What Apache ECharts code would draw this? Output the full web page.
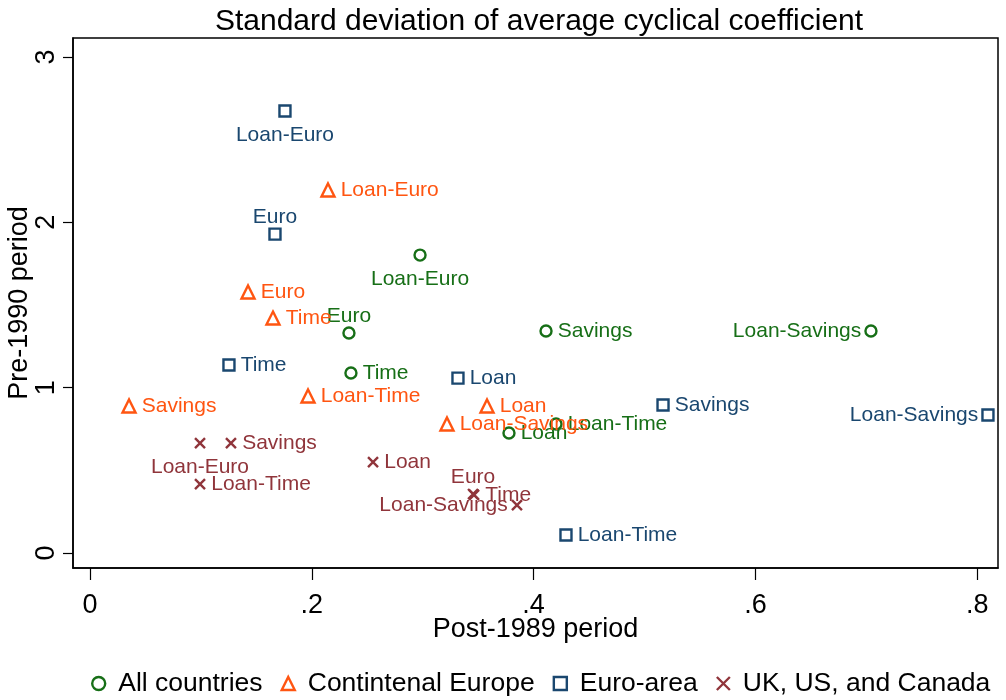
<!DOCTYPE html>
<html>
<head>
<meta charset="utf-8">
<script src="https://cdn.jsdelivr.net/npm/echarts@6/dist/echarts.min.js"></script>
<style>
  html, body { margin: 0; padding: 0; background: #fff; }
  #chart { width: 1006px; height: 700px; }
</style>
</head>
<body>
<div id="chart"></div>
<script>
// Specification names, shared by every country group
const specNames = ['Euro', 'Time', 'Savings', 'Loan', 'Loan-Euro', 'Loan-Time', 'Loan-Savings'];

// Country groups (legend order)
const groupNames = ['All countries', 'Contintenal Europe', 'Euro-area', 'UK, US, and Canada'];

// Post-1989 standard deviation (x) and pre-1990 standard deviation (y), per group, in specNames order
const allPost   = [0.2335, 0.2353, 0.4112, 0.3778, 0.2976, 0.4202, 0.7042];
const allPre    = [1.331, 1.089, 1.343, 0.726, 1.802, 0.780, 1.343];

const contPost  = [0.1425, 0.1650, 0.0352, 0.3580, 0.2146, 0.1966, 0.3219];
const contPre   = [1.579, 1.421, 0.889, 0.889, 2.196, 0.950, 0.780];

const euroPost  = [0.1668, 0.1253, 0.5167, 0.3318, 0.1758, 0.4292, 0.8097];
const euroPre   = [1.929, 1.137, 0.895, 1.058, 2.673, 0.109, 0.835];

const angloPost = [0.3454, 0.3463, 0.1271, 0.2552, 0.0992, 0.0992, 0.3850];
const angloPre  = [0.357, 0.351, 0.665, 0.550, 0.665, 0.417, 0.290];

// Axis tick values and their labels
const xTicks = [0, 0.2, 0.4, 0.6, 0.8];
const xTickLabels = ['0', '.2', '.4', '.6', '.8'];
const yTicks = [0, 1, 2, 3];
const yTickLabels = ['0', '1', '2', '3'];

// Where each marker label sits relative to its marker (specNames order)
const labelSides = {
  'All countries':      ['top', 'right', 'right', 'right', 'bottom', 'right', 'left'],
  'Contintenal Europe': ['right', 'right', 'right', 'right', 'right', 'right', 'right'],
  'Euro-area':          ['top', 'right', 'right', 'right', 'bottom', 'right', 'left'],
  'UK, US, and Canada': ['top', 'right', 'right', 'right', 'bottom', 'right', 'left']
};
const sideDistance = { top: 0, bottom: 7, left: 3, right: 5 };

const FONT = "'Liberation Sans', Arial, Helvetica, sans-serif";

const groupStyle = {
  'All countries':      { color: '#176f17', symbol: 'circle', size: 11 },
  'Contintenal Europe': { color: '#ff5511', symbol: 'triangle', size: 13 },
  'Euro-area':          { color: '#1a476f', symbol: 'rect', size: 11 },
  'UK, US, and Canada': { color: '#90353b', symbol: 'path://M0,0L10,10M10,0L0,10', size: 10 }
};

const groupData = {
  'All countries':      [allPost, allPre],
  'Contintenal Europe': [contPost, contPre],
  'Euro-area':          [euroPost, euroPre],
  'UK, US, and Canada': [angloPost, angloPre]
};

const series = groupNames.map(function (g) {
  const st = groupStyle[g];
  const xs = groupData[g][0], ys = groupData[g][1];
  return {
    name: g,
    type: 'scatter',
    symbol: st.symbol,
    symbolSize: st.size,
    itemStyle: { color: 'rgba(0,0,0,0)', borderColor: st.color, borderWidth: 2.4, opacity: 1 },
    emphasis: { disabled: true },
    data: specNames.map(function (n, i) {
      const side = labelSides[g][i];
      return {
        name: n,
        value: [xs[i], ys[i]],
        label: { position: side, distance: sideDistance[side] }
      };
    }),
    label: {
      show: true,
      formatter: '{b}',
      color: st.color,
      fontFamily: FONT,
      fontSize: 21
    },
    z: 3
  };
});

const chart = echarts.init(document.getElementById('chart'), null, { renderer: 'canvas' });

chart.setOption({
  animation: false,
  backgroundColor: '#ffffff',
  textStyle: { fontFamily: FONT },
  title: {
    text: 'Standard deviation of average cyclical coefficient',
    left: 534,
    top: 2,
    textAlign: 'center',
    textStyle: { fontFamily: FONT, fontSize: 30, fontWeight: 'normal', color: '#000' }
  },
  grid: {
    left: 73, right: 8, top: 38, bottom: 132,
    containLabel: false,
    outerBoundsMode: 'none',
    show: true, borderColor: '#000', borderWidth: 1.5, backgroundColor: '#fff'
  },
  legend: {
    left: 91,
    top: 670,
    width: 915,
    padding: 0,
    itemWidth: 13,
    itemHeight: 13,
    itemGap: 18,
    selectedMode: false,
    textStyle: { fontFamily: FONT, fontSize: 26.5, color: '#000', padding: [0, 0, 0, 8] },
    data: groupNames.map(function (g) {
      const st = groupStyle[g];
      return {
        name: g,
        icon: st.symbol,
        itemStyle: { color: 'rgba(0,0,0,0)', borderColor: st.color, borderWidth: 2.4 }
      };
    })
  },
  xAxis: {
    type: 'value',
    min: (73 - 90) / 1109,
    max: (998 - 90) / 1109,
    name: 'Post-1989 period',
    nameLocation: 'middle',
    nameGap: 48,
    nameMoveOverlap: false,
    nameTextStyle: { fontFamily: FONT, fontSize: 27, color: '#000' },
    axisLine: { show: true, onZero: false, lineStyle: { color: '#000', width: 1.5 } },
    axisTick: { show: true, inside: false, length: 12, customValues: xTicks, lineStyle: { color: '#000', width: 1.2 } },
    axisLabel: {
      show: true,
      customValues: xTicks,
      margin: 24,
      fontFamily: FONT,
      fontSize: 27,
      color: '#000',
      formatter: function (v) { return xTickLabels[xTicks.findIndex(function (t) { return Math.abs(t - v) < 1e-9; })]; }
    },
    splitLine: { show: false }
  },
  yAxis: {
    type: 'value',
    min: (553 - 568) / 165.33,
    max: (553 - 38) / 165.33,
    name: 'Pre-1990 period',
    nameLocation: 'middle',
    nameGap: 40,
    nameMoveOverlap: false,
    nameTextStyle: { fontFamily: FONT, fontSize: 27, color: '#000' },
    axisLine: { show: true, onZero: false, lineStyle: { color: '#000', width: 1.5 } },
    axisTick: { show: true, inside: false, length: 10, customValues: yTicks, lineStyle: { color: '#000', width: 1.2 } },
    axisLabel: {
      show: true,
      customValues: yTicks,
      rotate: 90,
      margin: 13,
      fontFamily: FONT,
      fontSize: 27,
      color: '#000',
      formatter: function (v) { return yTickLabels[yTicks.findIndex(function (t) { return Math.abs(t - v) < 1e-9; })]; }
    },
    splitLine: { show: false }
  },
  series: series
});
</script>
</body>
</html>
